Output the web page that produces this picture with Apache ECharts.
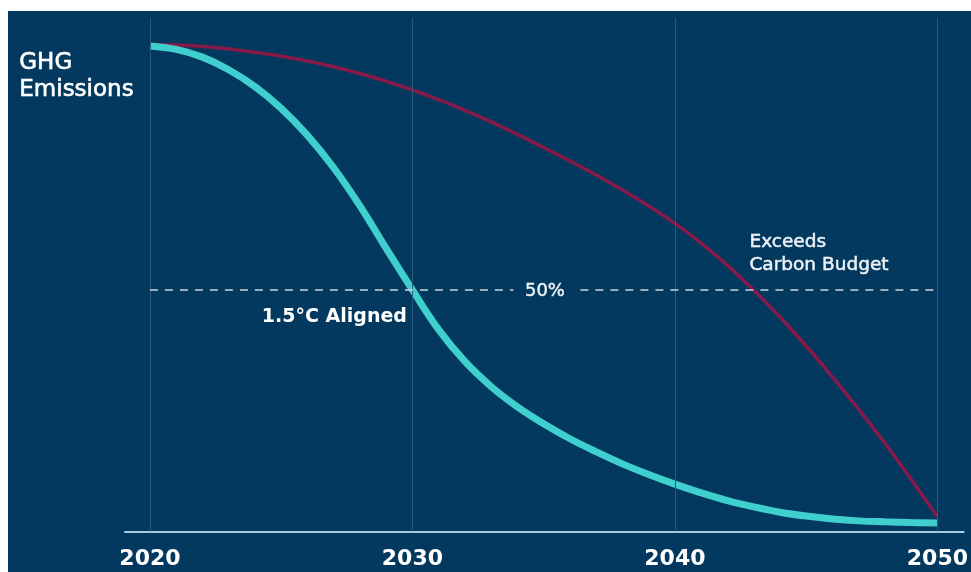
<!DOCTYPE html>
<html>
<head>
<meta charset="utf-8">
<script src="https://cdn.jsdelivr.net/npm/echarts@6/dist/echarts.min.js"></script>
<style>
html,body{margin:0;padding:0;background:#ffffff;}
#chart{width:971px;height:572px;}
</style>
</head>
<body>
<div id="chart"></div>
<script>
// ---- data ----
const years = [2020,2021,2022,2023,2024,2025,2026,2027,2028,2029,2030,2031,2032,2033,2034,2035,2036,2037,2038,2039,2040,2041,2042,2043,2044,2045,2046,2047,2048,2049,2050];
const alignedValues = [100.5,99.8,98.2,95.6,92.1,87.6,82.0,75.3,67.4,58.6,50.0,41.8,35.2,30.0,25.8,22.3,19.2,16.5,14.0,11.8,9.8,8.0,6.4,5.1,4.0,3.2,2.6,2.2,2.0,1.85,1.75];
const exceedsValues = [100.8,100.7,100.4,99.9,99.2,98.4,97.4,96.2,94.8,93.2,91.4,89.4,87.2,84.8,82.2,79.5,76.7,73.8,70.7,67.4,63.8,59.7,55.1,50.0,44.4,38.4,32.0,25.3,18.3,10.8,3.0];
const xTicks = [2020, 2030, 2040, 2050];
const thresholdValue = 50;
const thresholdLabel = '50%';
const alignedLabel = '1.5°C Aligned';
const exceedsLabel = 'Exceeds\nCarbon Budget';
const yTitle = 'GHG\nEmissions';

const NAVY = '#03395e';
const FONT = '"DejaVu Sans", "Open Sans", sans-serif';

const chart = echarts.init(document.getElementById('chart'), null, {renderer: 'canvas'});

const pairs = (vals) => years.map((y, i) => [y, vals[i]]);

const invisibleMark = { symbol: 'circle', symbolSize: 1, itemStyle: { color: 'rgba(0,0,0,0)' } };

const option = {
  backgroundColor: '#ffffff',
  animation: false,
  graphic: [
    { type: 'rect', z: -10, shape: { x: 8, y: 11, width: 963, height: 561 }, style: { fill: NAVY }, silent: true },
    { type: 'text', z: 100, left: 19, top: 50, style: { text: yTitle, fill: '#ffffff', font: '500 23px ' + FONT, lineHeight: 27, stroke: '#ffffff', lineWidth: 0.6 } }
  ],
  grid: { left: 125, right: 4, top: 18, bottom: 40.5 },
  xAxis: {
    type: 'value',
    min: 2019.05,
    max: 2051.0,
    axisLine: { show: true, lineStyle: { color: '#a6cde8', width: 2 } },
    axisTick: { show: false },
    splitLine: { show: false },
    axisLabel: {
      customValues: xTicks,
      color: '#ffffff',
      fontFamily: FONT,
      fontWeight: 'bold',
      fontSize: 22,
      margin: 17,
      formatter: (v) => String(v)
    }
  },
  yAxis: {
    type: 'value',
    min: 0,
    max: 106.3,
    show: false,
    splitLine: { show: false }
  },
  series: [
    {
      name: 'gridlines',
      type: 'line',
      data: [],
      silent: true,
      markLine: {
        silent: true,
        symbol: 'none',
        label: { show: false },
        lineStyle: { color: '#2b5a7d', width: 1, type: 'solid' },
        data: xTicks.map(t => ({ xAxis: t }))
      }
    },
    {
      name: 'threshold',
      type: 'line',
      data: [],
      silent: true,
      markLine: {
        silent: true,
        symbol: 'none',
        label: { show: false },
        lineStyle: { color: '#c9d7e2', width: 1.5, type: [8, 7] },
        data: [
          [{ coord: [2020, thresholdValue] }, { coord: [2033.85, thresholdValue] }],
          [{ coord: [2036.4, thresholdValue] }, { coord: [2050, thresholdValue] }]
        ]
      }
    },
    {
      name: 'Exceeds Carbon Budget',
      type: 'line',
      data: pairs(exceedsValues),
      smooth: 0.4,
      showSymbol: false,
      symbol: 'none',
      lineStyle: { color: '#861a48', width: 3.5 },
      z: 3
    },
    {
      name: '1.5°C Aligned',
      type: 'line',
      data: pairs(alignedValues),
      smooth: 0.4,
      showSymbol: false,
      symbol: 'none',
      lineStyle: { color: '#3fcfcf', width: 7, cap: 'butt' },
      z: 4
    },
    {
      name: 'annotations',
      type: 'scatter',
      data: [],
      silent: true,
      z: 10,
      markPoint: Object.assign({}, invisibleMark, {
        silent: true,
        label: { show: true, position: 'inside', color: '#ffffff', fontFamily: FONT },
        data: [
          { coord: [2035.05, thresholdValue - 0.2], label: { formatter: thresholdLabel, align: 'center', verticalAlign: 'middle', fontSize: 18, color: '#f2f5f8', textBorderColor: '#f2f5f8', textBorderWidth: 0.4 } },
          { coord: [2029.79, 44.4], label: { formatter: alignedLabel, align: 'right', verticalAlign: 'middle', fontWeight: 'bold', fontSize: 19 } },
          { coord: [2042.84, 57.5], label: { formatter: exceedsLabel, align: 'left', verticalAlign: 'middle', fontWeight: 500, fontSize: 18.5, lineHeight: 22.5, color: '#eef2f6', textBorderColor: '#eef2f6', textBorderWidth: 0.5 } }
        ]
      })
    }
  ]
};

chart.setOption(option);
</script>
</body>
</html>
